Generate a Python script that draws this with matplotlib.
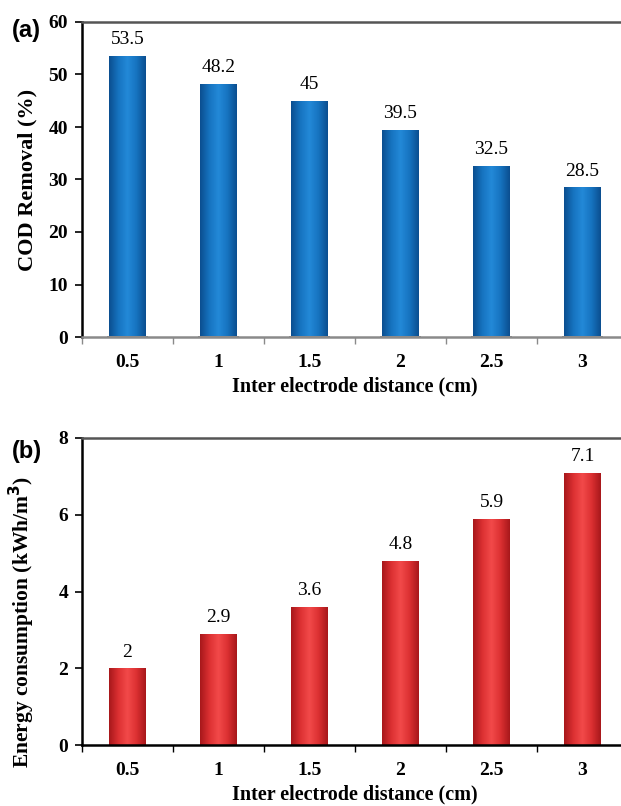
#!/usr/bin/env python3
"""Bar charts: COD removal and energy consumption vs inter electrode distance."""
import matplotlib
matplotlib.use("Agg")
import matplotlib.pyplot as plt
import numpy as np
from matplotlib.colors import LinearSegmentedColormap

distances = ["0.5", "1", "1.5", "2", "2.5", "3"]
cod_removal = [53.5, 48.2, 45, 39.5, 32.5, 28.5]
energy = [2, 2.9, 3.6, 4.8, 5.9, 7.1]
cod_labels = ["53.5", "48.2", "45", "39.5", "32.5", "28.5"]
energy_labels = ["2", "2.9", "3.6", "4.8", "5.9", "7.1"]

SERIF = ["Liberation Serif", "DejaVu Serif"]
SANS = ["Liberation Sans", "DejaVu Sans"]

blue_cmap = LinearSegmentedColormap.from_list(
    "blue", ["#0b4f90", "#1673c0", "#2389d8", "#1673c0", "#0b4f90"])
red_cmap = LinearSegmentedColormap.from_list(
    "red", ["#a8181b", "#dc3032", "#f24a4a", "#dc3032", "#a8181b"])


def shaded_bars(ax, values, cmap, width=0.4):
    """Draw bars with a horizontal cylinder-like gradient."""
    x = np.arange(len(values))
    bars = ax.bar(x, values, width=width, color="none", edgecolor="none")
    grad = np.linspace(0, 1, 64).reshape(1, -1)
    for b in bars:
        x0, y0 = b.get_x(), b.get_y()
        im = ax.imshow(grad, cmap=cmap, aspect="auto", zorder=2,
                       extent=[x0, x0 + b.get_width(), y0, y0 + b.get_height()])
        im.set_clip_path(b)
    return x


def style_axes(ax, ymax, ystep, ylabel, ysize, ypos, xcolor):
    ax.set_xlim(-0.5, len(distances) - 0.5)
    ax.set_ylim(0, ymax)
    ticks = np.arange(0, ymax + 0.01, ystep)
    ax.set_yticks(ticks)
    ax.set_yticklabels([f"{v:g}" for v in ticks],
                       family=SERIF, fontweight="bold", fontsize=14)
    ax.set_xticks(np.arange(len(distances)))
    ax.set_xticklabels(distances, family=SERIF, fontweight="bold", fontsize=14)
    ax.set_xticks(np.arange(-0.5, len(distances), 1), minor=True)
    ax.tick_params(axis="x", which="major", length=0, pad=12)
    ax.tick_params(axis="x", which="minor", length=5, direction="out",
                   color=xcolor, width=1)
    ax.tick_params(axis="y", length=5, width=1.2, direction="out", pad=5)
    ax.spines["right"].set_visible(False)
    ax.spines["left"].set_linewidth(1.8)
    ax.spines["top"].set_color("#555555")
    ax.spines["top"].set_linewidth(1.8)
    ax.spines["bottom"].set_color(xcolor)
    ax.spines["bottom"].set_linewidth(1.8)
    ax.set_xlabel("Inter electrode distance (cm)", family=SERIF,
                  fontweight="bold", fontsize=14.5, labelpad=4)
    ax.set_ylabel(ylabel, family=SERIF, fontweight="bold", fontsize=ysize)
    ax.yaxis.set_label_coords(-0.082, ypos)


fig = plt.figure(figsize=(6.21, 8.06), dpi=100)

# (a) COD removal
ax1 = fig.add_axes([82 / 621, 1 - 337 / 806, 546 / 621, 315 / 806])
x = shaded_bars(ax1, cod_removal, blue_cmap)
ax1.bar(x, [0.5] * len(x), width=0.46, bottom=-0.25, color="#8a8a8a",
        zorder=3, clip_on=False)
for xi, v, lab in zip(x, cod_removal, cod_labels):
    ax1.text(xi, v + 1.5, lab, ha="center", va="bottom", family=SERIF,
             fontsize=14)
style_axes(ax1, 60, 10, "COD Removal (%)", 16, 0.5, "#8a8a8a")
fig.text(12 / 621, 1 - 30 / 806, "(a)", family=SANS, fontweight="bold",
         fontsize=17, va="center")

# (b) Energy consumption
ax2 = fig.add_axes([82 / 621, 1 - 745 / 806, 546 / 621, 307 / 806])
x = shaded_bars(ax2, energy, red_cmap)
for xi, v, lab in zip(x, energy, energy_labels):
    ax2.text(xi, v + 0.2, lab, ha="center", va="bottom", family=SERIF,
             fontsize=14)
style_axes(ax2, 8, 2, "Energy consumption (kWh/m$^\\mathbf{3}$)", 15.5,
           0.40, "black")
fig.text(12 / 621, 1 - 452 / 806, "(b)", family=SANS, fontweight="bold",
         fontsize=17, va="center")

fig.savefig("out.png", dpi=100)
